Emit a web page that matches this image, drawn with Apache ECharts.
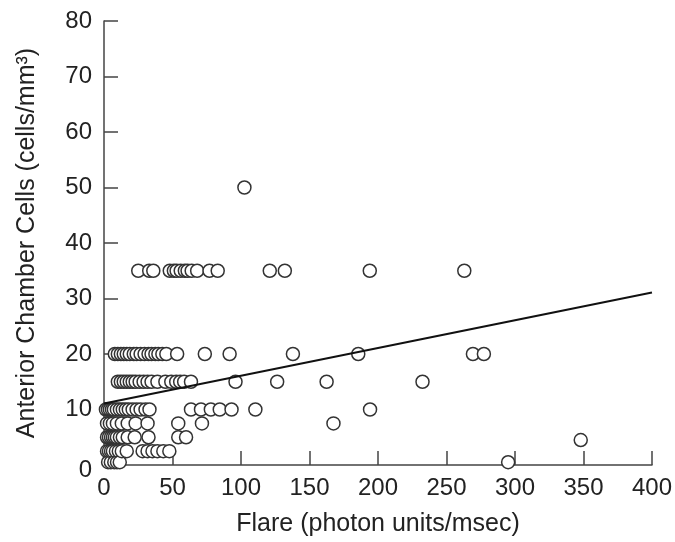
<!DOCTYPE html>
<html>
<head>
<meta charset="utf-8">
<script src="https://cdn.jsdelivr.net/npm/echarts@6/dist/echarts.min.js"></script>
<style>html,body{margin:0;padding:0;background:#fff;overflow:hidden}#c{width:675px;height:542px}</style>
</head>
<body>
<div id="c"></div>
<script>
// Cell levels (y) and flare readings (x) for each level
const xTicks = [0, 50, 100, 150, 200, 250, 300, 350, 400];
const yTicks = [0, 10, 20, 30, 40, 50, 60, 70, 80];

const level0 = 0.5;
const flare0 = [3, 5, 7.5, 9.5, 11.5, 295];
const level2_5 = 2.5;
const flare2_5 = [2.2, 3.6, 5.1, 6.5, 8.7, 10.8, 13.0, 16.6, 28.2, 31.8, 35.4, 39.0, 43.3, 47.7];
const level5 = 5;
const flare5 = [2.2, 3.6, 5.1, 6.5, 7.9, 9.4, 11.6, 13.7, 17.3, 22.4, 32.5, 54.2, 59.9];
const level4_5 = 4.5;
const flare4_5 = [348];
const level7_5 = 7.5;
const flare7_5 = [2.2, 4.3, 6.5, 9.4, 13.0, 17.3, 23.1, 31.8, 54.2, 71.5, 167.5];
const level10 = 10;
const flare10 = [1.4, 2.9, 4.3, 5.8, 7.2, 9.4, 11.6, 13.7, 15.9, 18.1, 20.9, 23.8, 26.7, 30.3, 33.2, 63.5, 70.8, 78.0, 84.5, 93.1, 110.5, 194.2];
const level15 = 15;
const flare15 = [10.1, 12.3, 14.4, 16.6, 18.8, 20.9, 23.1, 26.0, 28.9, 31.8, 34.7, 39.0, 44.8, 49.1, 52.7, 55.6, 58.5, 63.5, 96.0, 126.4, 162.5, 232.5];
const level20 = 20;
const flare20 = [7.9, 10.1, 12.3, 14.4, 16.6, 18.8, 21.7, 23.8, 26.7, 29.6, 32.5, 34.7, 37.5, 39.7, 42.6, 45.5, 53.4, 73.6, 91.7, 137.9, 185.6, 269.3, 277.3];
const level35 = 35;
const flare35 = [25, 33, 36, 48, 51, 53, 56, 59, 61, 64, 68, 77, 83, 121, 132, 194, 263];
const level50 = 50;
const flare50 = [102.5];

const fitIntercept = 11.1;
const fitSlope = 0.05;

function rowPts(xs, y) { return xs.map(x => [x, y]); }
const points = [].concat(
  rowPts(flare0, level0), rowPts(flare2_5, level2_5), rowPts(flare4_5, level4_5),
  rowPts(flare5, level5), rowPts(flare7_5, level7_5), rowPts(flare10, level10),
  rowPts(flare15, level15), rowPts(flare20, level20), rowPts(flare35, level35),
  rowPts(flare50, level50)
).sort((a, b) => a[0] - b[0]);

const xMin = xTicks[0], xMax = xTicks[xTicks.length - 1];
const fitLine = [[xMin, fitIntercept + fitSlope * xMin], [xMax, fitIntercept + fitSlope * xMax]];

const font = 'Liberation Sans, Arial, Helvetica, sans-serif';
const chart = echarts.init(document.getElementById('c'), null, {renderer: 'canvas'});
chart.setOption({
  animation: false,
  backgroundColor: '#fff',
  grid: {left: 104, right: 17, top: 21, bottom: 77, containLabel: false},
  xAxis: {
    type: 'value', min: xMin, max: xMax, interval: 50,
    name: 'Flare (photon units/msec)', nameLocation: 'middle', nameGap: 47,
    nameTextStyle: {fontFamily: font, fontSize: 25, color: '#222'},
    axisLine: {show: true, onZero: false, lineStyle: {color: '#444', width: 1.5}},
    axisTick: {show: true, inside: true, length: 14, lineStyle: {color: '#444', width: 1.5}},
    axisLabel: {fontFamily: font, fontSize: 24, color: '#222', margin: 11},
    splitLine: {show: false}
  },
  yAxis: {
    type: 'value', min: yTicks[0], max: yTicks[yTicks.length - 1], interval: 10,
    name: 'Anterior Chamber Cells (cells/mm³)', nameLocation: 'middle', nameGap: 64, nameRotate: 90,
    nameTextStyle: {fontFamily: font, fontSize: 25, color: '#222'},
    axisLine: {show: true, onZero: false, lineStyle: {color: '#444', width: 1.5}},
    axisTick: {show: true, inside: true, length: 14, lineStyle: {color: '#444', width: 1.5}},
    axisLabel: {
      fontFamily: font, fontSize: 24, color: '#222', margin: 12,
      formatter: v => v === 0 ? '{z|0}' : String(v),
      rich: {z: {fontFamily: font, fontSize: 24, color: '#222', padding: [10, 0, 0, 0]}}
    },
    splitLine: {show: false}
  },
  series: [
    {
      type: 'scatter', data: points, symbol: 'circle', symbolSize: 13,
      itemStyle: {color: '#fff', borderColor: '#333', borderWidth: 1.5, opacity: 1},
      z: 2
    },
    {
      type: 'line', data: fitLine, showSymbol: false, symbol: 'none',
      lineStyle: {color: '#111', width: 2}, z: 3
    }
  ]
});
</script>
</body>
</html>
